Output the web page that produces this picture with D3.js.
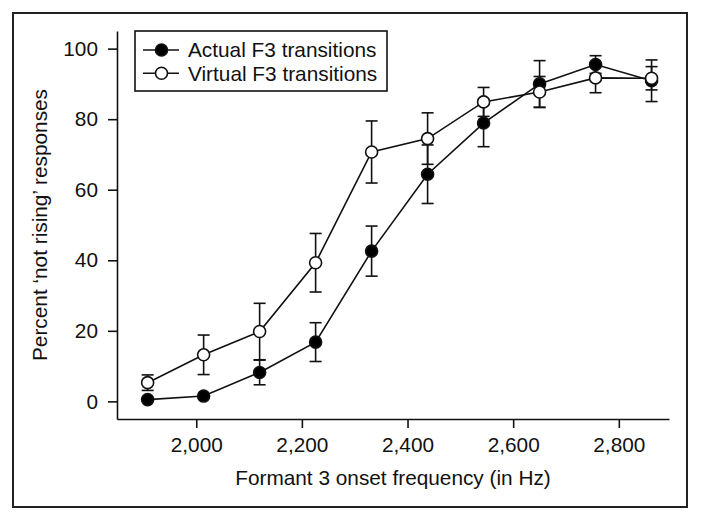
<!DOCTYPE html>
<html>
<head>
<meta charset="utf-8">
<script src="https://cdn.jsdelivr.net/npm/d3@7"></script>
<style>
  html, body { margin: 0; padding: 0; background: #fff; }
  svg { display: block; }
  text { font-family: "Liberation Sans", Arial, Helvetica, sans-serif; fill: #111; }
</style>
</head>
<body>
<svg id="chart" width="701" height="521"></svg>
<script>
// ---- data ----
const frequencies = [1908, 2014, 2120, 2226, 2332, 2438, 2544, 2650, 2756, 2862];
const actualValues = [0.5, 1.5, 8.2, 16.8, 42.6, 64.4, 78.9, 90.0, 95.5, 90.9];
const actualErrors = [0, 0, 3.5, 5.5, 7.1, 8.3, 6.7, 6.6, 2.5, 5.9];
const virtualValues = [5.3, 13.2, 19.8, 39.3, 70.7, 74.5, 84.9, 87.7, 91.7, 91.6];
const virtualErrors = [2.2, 5.6, 8.0, 8.3, 8.8, 7.3, 4.1, 4.4, 4.2, 3.3];
const seriesNames = ["Actual F3 transitions", "Virtual F3 transitions"];
const xTicks = [2000, 2200, 2400, 2600, 2800];
const yTicks = [0, 20, 40, 60, 80, 100];
const xTitle = "Formant 3 onset frequency (in Hz)";
const yTitle = "Percent \u2018not rising\u2019 responses";

const series = [
  { name: seriesNames[0], values: actualValues, errors: actualErrors, fill: "#000" },
  { name: seriesNames[1], values: virtualValues, errors: virtualErrors, fill: "#fff" }
];

const svg = d3.select("#chart");
const FS = 20.8;
const ink = "#111";

// outer frame
svg.append("rect").attr("x", 13).attr("y", 13).attr("width", 674).attr("height", 494)
  .attr("fill", "none").attr("stroke", "#222").attr("stroke-width", 2);

const x = d3.scaleLinear().domain([1850, 2895]).range([117, 669]);
const y = d3.scaleLinear().domain([-5, 105]).range([419, 31]);

// axes
const xAxis = svg.append("g").attr("transform", `translate(0,${y.range()[0]})`)
  .call(d3.axisBottom(x).tickValues(xTicks).tickFormat(d3.format(",")).tickSizeInner(9).tickSizeOuter(0).tickPadding(9));
const yAxis = svg.append("g").attr("transform", `translate(${x.range()[0]},0)`)
  .call(d3.axisLeft(y).tickValues(yTicks).tickSizeInner(9).tickSizeOuter(0).tickPadding(10));
[xAxis, yAxis].forEach(g => {
  g.selectAll("path.domain").attr("stroke", ink).attr("stroke-width", 1.6);
  g.selectAll(".tick line").attr("stroke", ink).attr("stroke-width", 1.6);
  g.selectAll(".tick text").attr("font-size", FS).attr("fill", ink)
    .attr("font-family", "'Liberation Sans', Arial, sans-serif");
});

// titles
svg.append("text").attr("x", (x.range()[0] + x.range()[1]) / 2).attr("y", 485)
  .attr("text-anchor", "middle").attr("font-size", FS).text(xTitle);
svg.append("text").attr("transform", `translate(47,${(y.range()[0] + y.range()[1]) / 2}) rotate(-90)`)
  .attr("text-anchor", "middle").attr("font-size", FS).text(yTitle);

// lines
const line = d3.line().x((d, i) => x(frequencies[i])).y(d => y(d));
series.forEach(s => {
  svg.append("path").datum(s.values).attr("d", line)
    .attr("fill", "none").attr("stroke", ink).attr("stroke-width", 1.6);
});

// error bars
const capW = 6;
series.forEach(s => {
  const g = svg.append("g").attr("stroke", ink).attr("stroke-width", 1.6);
  s.values.forEach((v, i) => {
    const e = s.errors[i];
    if (!e) return;
    const cx = x(frequencies[i]);
    g.append("line").attr("x1", cx).attr("x2", cx).attr("y1", y(v + e)).attr("y2", y(v - e));
    g.append("line").attr("x1", cx - capW).attr("x2", cx + capW).attr("y1", y(v + e)).attr("y2", y(v + e));
    g.append("line").attr("x1", cx - capW).attr("x2", cx + capW).attr("y1", y(v - e)).attr("y2", y(v - e));
  });
});

// markers
series.forEach(s => {
  svg.append("g").selectAll("circle").data(s.values).join("circle")
    .attr("cx", (d, i) => x(frequencies[i])).attr("cy", d => y(d))
    .attr("r", 6).attr("fill", s.fill).attr("stroke", ink).attr("stroke-width", 1.6);
});

// legend
const legend = svg.append("g");
legend.append("rect").attr("x", 135).attr("y", 31).attr("width", 252).attr("height", 60)
  .attr("fill", "#fff").attr("stroke", ink).attr("stroke-width", 1.6);
series.forEach((s, i) => {
  const ly = 50 + i * 23.3;
  legend.append("line").attr("x1", 143).attr("x2", 179).attr("y1", ly).attr("y2", ly)
    .attr("stroke", ink).attr("stroke-width", 1.6);
  legend.append("circle").attr("cx", 161.5).attr("cy", ly).attr("r", 6)
    .attr("fill", s.fill).attr("stroke", ink).attr("stroke-width", 1.6);
  legend.append("text").attr("x", 188).attr("y", ly).attr("dy", "0.36em")
    .attr("font-size", FS).text(s.name);
});
</script>
</body>
</html>
